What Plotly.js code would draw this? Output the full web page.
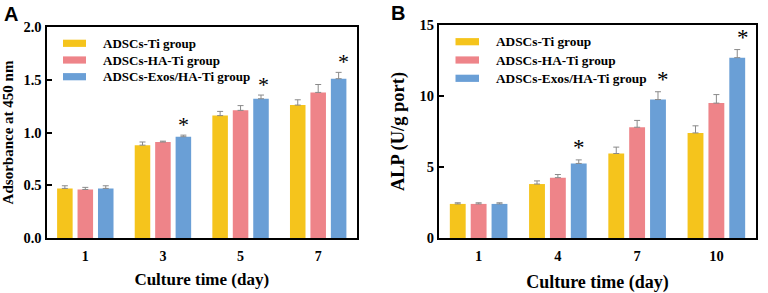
<!DOCTYPE html>
<html>
<head>
<meta charset="utf-8">
<script src="https://cdn.plot.ly/plotly-3.0.1.min.js"></script>
<style>
html,body{margin:0;padding:0;background:#fff;}
#chart{width:768px;height:293px;}
</style>
</head>
<body>
<div id="chart"></div>
<script>
// ---------- data ----------
const seriesNames = ['ADSCs-Ti group', 'ADSCs-HA-Ti group', 'ADSCs-Exos/HA-Ti group'];
const colors = ['#F5C41C', '#EE8489', '#6A9FD6'];

// Panel A: CCK-8 absorbance
const daysA = ['1', '3', '5', '7'];
const absTi     = [0.47, 0.88, 1.16, 1.26];
const absHATi   = [0.46, 0.91, 1.21, 1.38];
const absExos   = [0.47, 0.96, 1.32, 1.51];
const absTiErr   = [0.025, 0.03, 0.04, 0.05];
const absHATiErr = [0.02, 0.008, 0.045, 0.075];
const absExosErr = [0.025, 0.015, 0.035, 0.06];
const sigA = [false, true, true, true];

// Panel B: ALP activity
const daysB = ['1', '4', '7', '10'];
const alpTi     = [2.4, 3.8, 5.95, 7.4];
const alpHATi   = [2.4, 4.25, 7.8, 9.5];
const alpExos   = [2.4, 5.25, 9.75, 12.7];
const alpTiErr   = [0.08, 0.22, 0.45, 0.5];
const alpHATiErr = [0.08, 0.22, 0.48, 0.6];
const alpExosErr = [0.08, 0.25, 0.55, 0.57];
const sigB = [false, true, true, true];

// ---------- style ----------
const SERIF = 'Liberation Serif, Times New Roman, serif';
const SANS = 'Liberation Sans, Arial, sans-serif';
const BARGAP = 0.21, BARGROUPGAP = 0.24;
const errColor = '#8a8a8a';
const W = 768, H = 293;
const px = v => v / W, py = v => (H - v) / H;
const starNudgeA = [0, 0, 2, 5];   // horizontal pixel nudges of the asterisks
const starNudgeB = [0, 0, 5, 6];

function barTrace(x, y, err, i, xa, ya) {
  return {
    type: 'bar', x: x, y: y, xaxis: xa, yaxis: ya,
    name: seriesNames[i], showlegend: false,
    marker: {color: colors[i], line: {width: 0}},
    error_y: {type: 'data', array: err, arrayminus: err.map(() => 0), symmetric: false,
              color: errColor, thickness: 1, width: 3},
    hoverinfo: 'x+y'
  };
}

const data = [
  barTrace(daysA, absTi, absTiErr, 0, 'x', 'y'),
  barTrace(daysA, absHATi, absHATiErr, 1, 'x', 'y'),
  barTrace(daysA, absExos, absExosErr, 2, 'x', 'y'),
  barTrace(daysB, alpTi, alpTiErr, 0, 'x2', 'y2'),
  barTrace(daysB, alpHATi, alpHATiErr, 1, 'x2', 'y2'),
  barTrace(daysB, alpExos, alpExosErr, 2, 'x2', 'y2')
];

// asterisks above the Exos bars
const blueOffset = (1 - BARGAP) / 3;
const annotations = [];
const shapes = [];
function addStars(days, vals, errs, sig, xa, ya, size, yshift, nudge) {
  days.forEach((d, k) => {
    if (!sig[k]) return;
    annotations.push({
      xref: xa, yref: ya, x: k + blueOffset, y: vals[k] + errs[k],
      text: '*', showarrow: false, yanchor: 'bottom', xanchor: 'center',
      yshift: yshift, xshift: nudge[k],
      font: {family: SERIF, size: size, color: '#000'}
    });
  });
}
addStars(daysA, absExos, absExosErr, sigA, 'x', 'y', 22, -4, starNudgeA);
addStars(daysB, alpExos, alpExosErr, sigB, 'x2', 'y2', 23, -2, starNudgeB);

// hand-drawn legends (wide flat swatches like the original)
function addLegend(x0, x1, xt, rows, fsize) {
  seriesNames.forEach((nm, i) => {
    shapes.push({type: 'rect', xref: 'paper', yref: 'paper',
      x0: px(x0), x1: px(x1), y0: py(rows[i] + 3.6), y1: py(rows[i] - 3.6),
      fillcolor: colors[i], line: {width: 0}});
    annotations.push({xref: 'paper', yref: 'paper', x: px(xt), y: py(rows[i]),
      xanchor: 'left', yanchor: 'middle', showarrow: false, text: nm,
      font: {family: SERIF, size: fsize, color: '#000', weight: 'bold'}});
  });
}
addLegend(63, 86, 101, [43.3, 60, 76.7], 13);
addLegend(455.5, 479, 494, [41.7, 60, 78.3], 13.3);

annotations.push({xref: 'paper', yref: 'paper', x: px(2), y: py(1), xanchor: 'left', yanchor: 'top',
  text: '<b>A</b>', showarrow: false, font: {family: SANS, size: 20, color: '#000'}});
annotations.push({xref: 'paper', yref: 'paper', x: px(389), y: py(0), xanchor: 'left', yanchor: 'top',
  text: '<b>B</b>', showarrow: false, font: {family: SANS, size: 20, color: '#000'}});

function font(size) { return {family: SERIF, size: size, color: '#000', weight: 'bold'}; }
const axisCommon = {
  showline: true, linecolor: '#000', linewidth: 2, mirror: true,
  showgrid: false, zeroline: false
};

const layout = {
  width: W, height: H,
  margin: {l: 0, r: 0, t: 0, b: 0},
  paper_bgcolor: '#fff', plot_bgcolor: '#fff',
  showlegend: false,
  barmode: 'group', bargap: BARGAP, bargroupgap: BARGROUPGAP,
  xaxis: Object.assign({}, axisCommon, {
    domain: [px(46.5), px(357)], type: 'category', anchor: 'y',
    ticks: '', ticklabelstandoff: 4, tickfont: font(14),
    title: {text: 'Culture time (day)', font: font(17), standoff: 10}
  }),
  yaxis: Object.assign({}, axisCommon, {
    domain: [py(238), py(27)], anchor: 'x',
    range: [0, 2], dtick: 0.5, tickformat: '.1f', tickfont: font(14.5),
    ticks: 'inside', ticklen: 5, tickwidth: 2, tickcolor: '#000',
    title: {text: 'Adsorbance at 450 nm', font: font(15), standoff: 8}
  }),
  xaxis2: Object.assign({}, axisCommon, {
    domain: [px(439), px(756)], type: 'category', anchor: 'y2',
    ticks: '', ticklabelstandoff: 4, tickfont: font(14.5),
    title: {text: 'Culture time (day)', font: font(18), standoff: 13}
  }),
  yaxis2: Object.assign({}, axisCommon, {
    domain: [py(238), py(25)], anchor: 'x2',
    range: [0, 15], dtick: 5, tickfont: font(14.5),
    ticks: 'inside', ticklen: 5, tickwidth: 2, tickcolor: '#000',
    title: {text: 'ALP (U/g port)', font: font(18.5), standoff: 10}
  }),
  annotations: annotations,
  shapes: shapes
};

Plotly.newPlot('chart', data, layout, {displayModeBar: false, staticPlot: true});
</script>
</body>
</html>
